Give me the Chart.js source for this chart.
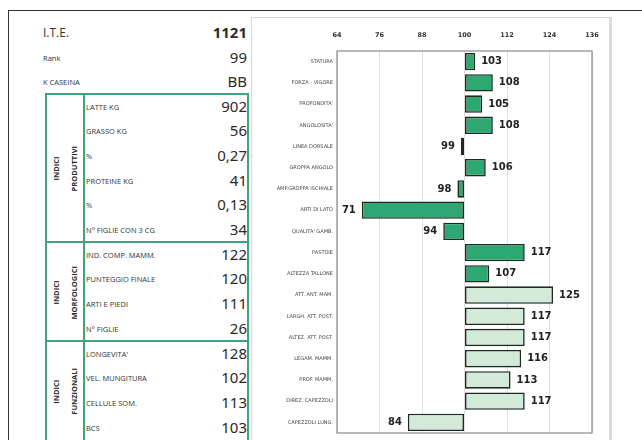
<!DOCTYPE html>
<html>
<head>
<meta charset="utf-8">
<script src="https://cdn.jsdelivr.net/npm/chart.js@4.4.1/dist/chart.umd.min.js"></script>
<style>
  html, body { margin: 0; padding: 0; background: #fff; }
  #page { position: relative; width: 642px; height: 440px; overflow: hidden; font-family: "Open Sans", sans-serif; }
  #frameTop { position: absolute; left: 8px; top: 10px; width: 640px; height: 0; border-top: 1.5px solid #333; }
  #frameLeft { position: absolute; left: 8px; top: 10px; width: 0; height: 440px; border-left: 1.5px solid #333; }
  .lbl { position: absolute; font-size: 7.5px; color: #333; text-transform: uppercase; white-space: nowrap; }
  .val { position: absolute; right: 395px; font-family: "Noto Sans", sans-serif; font-size: 15px; color: #2a2a2a; white-space: nowrap; }
  .box { position: absolute; left: 45px; width: 204px; border: 2px solid #3fa37c; box-sizing: border-box; }
  .inner { position: absolute; left: 36px; top: 0; bottom: 0; border-left: 2px solid #3fa37c; }
  .vert { position: absolute; left: 0; width: 36px; top: 0; bottom: 0; display: flex; align-items: center; justify-content: center; }
  .vert span { writing-mode: vertical-rl; transform: rotate(180deg); font-size: 7.5px; font-weight: bold; color: #2a2a2a; line-height: 18px; text-align: center; }
  #panel { position: absolute; left: 251px; top: 17px; width: 361px; height: 430px; border: 1px solid #d6d6d6; border-right: 3px solid #dcdcdc; box-sizing: border-box; }
  #chartBox { position: absolute; left: 251px; top: 17px; width: 361px; height: 423px; }
</style>
</head>
<body>
<div id="page">
  <div id="frameTop"></div>
  <div id="frameLeft"></div>
  <div id="panel"></div>
  <div id="table"></div>
  <div id="chartBox"><canvas id="bar-chart"></canvas></div>
</div>
<script>
// left table
const headLabels = ["I.T.E.", "Rank", "K CASEINA"];
const headValues = ["1121", "99", "BB"];
const produttiviLabels = ["LATTE KG", "GRASSO KG", "%", "PROTEINE KG", "%", "N° FIGLIE CON 3 CG"];
const produttiviValues = ["902", "56", "0,27", "41", "0,13", "34"];
const morfologiciLabels = ["IND. COMP. MAMM.", "PUNTEGGIO FINALE", "ARTI E PIEDI", "N° FIGLIE"];
const morfologiciValues = ["122", "120", "111", "26"];
const funzionaliLabels = ["LONGEVITA'", "VEL. MUNGITURA", "CELLULE SOM.", "BCS"];
const funzionaliValues = ["128", "102", "113", "103"];

// chart
const traitLabels = [
  "STATURA", "FORZA - VIGORE", "PROFONDITA'", "ANGOLOSITA'", "LINEA DORSALE",
  "GROPPA ANGOLO", "AMP.GROPPA ISCHIALE", "ARTI DI LATO", "QUALITA' GAMB.", "PASTOIE",
  "ALTEZZA TALLONE", "ATT. ANT. MAM.", "LARGH. ATT. POST.", "ALTEZ. ATT. POST.",
  "LEGAM. MAMM.", "PROF. MAMM.", "DIREZ. CAPEZZOLI", "CAPEZZOLI LUNG.",
];
const traitValues = [103, 108, 105, 108, 99, 106, 98, 71, 94, 117, 107, 125, 117, 117, 116, 113, 117, 84];
const traitGroup = [
  "corpo", "corpo", "corpo", "corpo", "corpo", "corpo", "corpo", "corpo", "corpo", "corpo", "corpo",
  "mammella", "mammella", "mammella", "mammella", "mammella", "mammella", "mammella",
];
const axisTicks = [64, 76, 88, 100, 112, 124, 136];

const table = document.getElementById("table");
function addRow(label, value, y, bold) {
  const l = document.createElement("div");
  l.className = "lbl";
  l.textContent = label;
  l.style.left = "86px";
  l.style.top = Math.round(y - 5) + "px";
  const v = document.createElement("div");
  v.className = "val";
  v.textContent = value;
  v.style.top = Math.round(y - 11) + "px";
  if (bold) { v.style.fontWeight = "bold"; }
  table.appendChild(l);
  table.appendChild(v);
  return l;
}
headLabels.forEach((t, i) => {
  const l = addRow(t, headValues[i], 33 + i * 24.5, i === 0);
  l.style.left = "43px";
  if (i === 0) { l.style.fontSize = "12px"; l.style.top = "24px"; l.style.textTransform = "none"; }
  else if (i === 1) { l.style.textTransform = "none"; }
});

const rowH = 24.65;
let rowIdx = 0;
function addGroup(title, labels, values, last) {
  const top = Math.round(93 + rowIdx * rowH);
  const bottom = Math.round(93 + (rowIdx + labels.length) * rowH);
  const box = document.createElement("div");
  box.className = "box";
  box.style.top = top + "px";
  box.style.height = (last ? 120 : bottom - top + 2) + "px";
  box.innerHTML = '<div class="inner"></div><div class="vert" style="height:' + (bottom - top) + 'px"><span>' + title + "</span></div>";
  table.appendChild(box);
  labels.forEach((t, i) => {
    addRow(t, values[i], top + (i + 0.55) * rowH, false);
  });
  rowIdx += labels.length;
}
addGroup("INDICI<br>PRODUTTIVI", produttiviLabels, produttiviValues, false);
addGroup("INDICI<br>MORFOLOGICI", morfologiciLabels, morfologiciValues, false);
addGroup("INDICI<br>FUNZIONALI", funzionaliLabels, funzionaliValues, true);

const groupColor = { corpo: "#2ea872", mammella: "#d3ead8" };

const plotFrame = {
  id: "plotFrame",
  afterDatasetsDraw(chart) {
    const a = chart.chartArea;
    const ctx = chart.ctx;
    ctx.save();
    ctx.strokeStyle = "#8a8a8a";
    ctx.lineWidth = 1.2;
    ctx.strokeRect(a.left, a.top, a.right - a.left, a.bottom - a.top);
    ctx.restore();
  },
};

const valueLabels = {
  id: "valueLabels",
  afterDatasetsDraw(chart) {
    const ctx = chart.ctx;
    const meta = chart.getDatasetMeta(0);
    ctx.save();
    ctx.font = "bold 10px 'DejaVu Sans', sans-serif";
    ctx.fillStyle = "#222";
    ctx.textBaseline = "middle";
    meta.data.forEach((bar, i) => {
      const v = traitValues[i];
      if (v >= 100) {
        ctx.textAlign = "left";
        ctx.fillText(String(v), bar.x + 6, bar.y);
      } else {
        ctx.textAlign = "right";
        ctx.fillText(String(v), bar.x - 6, bar.y);
      }
    });
    ctx.restore();
  },
};

new Chart(document.getElementById("bar-chart"), {
  type: "bar",
  data: {
    labels: traitLabels,
    datasets: [
      {
        data: traitValues,
        base: 100,
        backgroundColor: traitGroup.map((g) => groupColor[g]),
        borderColor: "#1e2a20",
        borderWidth: 1.6,
        borderSkipped: false,
        categoryPercentage: 1,
        barPercentage: 0.82,
      },
    ],
  },
  options: {
    indexAxis: "y",
    responsive: true,
    maintainAspectRatio: false,
    animation: false,
    layout: { padding: { left: 0, right: 20, top: 0, bottom: 7 } },
    plugins: { legend: { display: false }, tooltip: { enabled: false } },
    scales: {
      x: {
        position: "top",
        min: 64,
        max: 136,
        afterBuildTicks: (scale) => { scale.ticks = axisTicks.map((v) => ({ value: v })); },
        ticks: { padding: 12, color: "#333", font: { size: 6.5, weight: "bold", family: "'DejaVu Sans', sans-serif" } },
        grid: { color: "#dedede", lineWidth: 1, drawTicks: false },
        border: { display: false },
        afterFit: (scale) => { scale.height = 34; },
      },
      y: {
        ticks: { padding: 4, color: "#444", font: { size: 5, family: "'DejaVu Sans', sans-serif" } },
        grid: { display: false, drawTicks: false },
        border: { display: false },
        afterFit: (scale) => { scale.width = 86; },
      },
    },
  },
  plugins: [plotFrame, valueLabels],
});
</script>
</body>
</html>
